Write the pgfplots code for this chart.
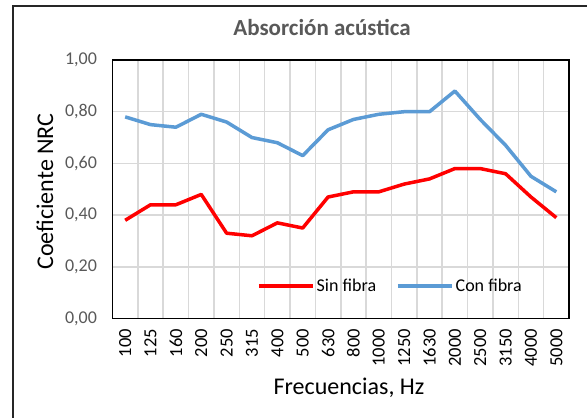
\documentclass[border=0pt]{standalone}
\usepackage{pgfplots}
\pgfplotsset{compat=1.18}
\usepackage{fontspec}
\setmainfont{Carlito}
\definecolor{gridc}{HTML}{D9D9D9}
\definecolor{tickc}{HTML}{595959}
\definecolor{redc}{HTML}{FF0000}
\definecolor{bluec}{HTML}{5B9BD5}
\begin{document}
\begin{tikzpicture}[x=1bp,y=1bp]
\path[fill=white] (-112.5,-98.5) rectangle (474.5,318.5);
\begin{scope}
\clip (-112.5,-98.5) rectangle (474.5,318.5);
\draw[line width=2bp,black!85] (-99.5,-120) -- (-99.5,312.2) -- (500,312.2);
\end{scope}
\begin{axis}[
  at={(0bp,0bp)}, anchor=south west,
  scale only axis, width=456.5bp, height=258.5bp,
  xmin=-0.5, xmax=17.5, ymin=0, ymax=1,
  xtick={0,...,17},
  xticklabels={100,125,160,200,250,315,400,500,630,800,1000,1250,1630,2000,2500,3150,4000,5000},
  minor xtick={0.5,1.5,...,16.5},
  ytick={0,0.2,...,1.0},
  major tick length=0pt, minor tick length=0pt,
  xmajorgrids=false, xminorgrids=true, ymajorgrids=true,
  minor grid style={gridc, line width=1.5bp},
  major grid style={gridc, line width=1.5bp},
  axis line style={black, line width=1.8bp},
  /pgf/number format/assume math mode=true,
  yticklabel={\pgfmathprintnumber[fixed,zerofill,precision=2,use comma]{\tick}},
  yticklabel style={font=\fontsize{18bp}{20bp}\selectfont, text=tickc, xshift=-12bp},
  xticklabel style={font=\fontsize{18.5bp}{20bp}\selectfont, text=black, rotate=90, anchor=east},
  xticklabel shift=7bp,
  title={\textbf{Absorción acústica}},
  title style={font=\fontsize{23bp}{26bp}\selectfont, text=tickc, at={(209.5bp,285.5bp)}, anchor=center},
  xlabel={Frecuencias, Hz},
  ylabel={Coeficiente NRC},
  xlabel style={font=\fontsize{24bp}{26bp}\selectfont, at={(236.5bp,-69.5bp)}, anchor=center},
  ylabel style={font=\fontsize{24bp}{26bp}\selectfont, at={(-67.5bp,127bp)}, anchor=center, rotate=0},
  legend columns=2,
  legend style={draw=none, fill=none, at={(0.609,0.1257)}, anchor=center,
    font=\fontsize{18bp}{20bp}\selectfont,
    /tikz/every even column/.append style={column sep=18bp}},
  legend image code/.code={\draw[#1] (0bp,0bp) -- (54bp,0bp);},
]
\addplot[redc, line width=3.5bp, line join=round] coordinates {
(0,0.38) (1,0.44) (2,0.44) (3,0.48) (4,0.33) (5,0.32) (6,0.37) (7,0.35) (8,0.47)
(9,0.49) (10,0.49) (11,0.52) (12,0.54) (13,0.58) (14,0.58) (15,0.56) (16,0.47) (17,0.39)};
\addlegendentry{Sin fibra}
\addplot[bluec, line width=3.5bp, line join=round] coordinates {
(0,0.78) (1,0.75) (2,0.74) (3,0.79) (4,0.76) (5,0.70) (6,0.68) (7,0.63) (8,0.73)
(9,0.77) (10,0.79) (11,0.80) (12,0.80) (13,0.88) (14,0.77) (15,0.67) (16,0.55) (17,0.49)};
\addlegendentry{Con fibra}
\end{axis}
\end{tikzpicture}
\end{document}
